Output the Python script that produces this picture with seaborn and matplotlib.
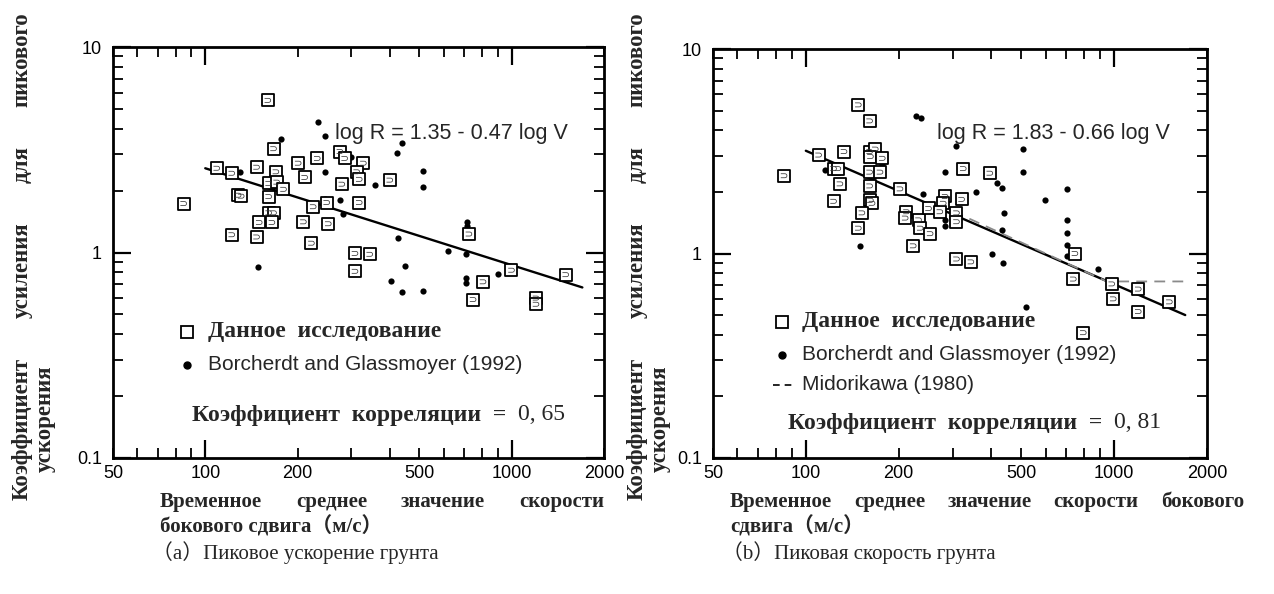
import matplotlib
matplotlib.use("Agg")
import matplotlib.pyplot as plt
from matplotlib.transforms import IdentityTransform
import pandas as pd
import seaborn as sns

W, H = 1274, 594

# (a) peak ground acceleration: this study (open squares)
acc_study_v = [160, 167, 109, 122, 147, 170, 161, 171, 180, 161, 128, 131, 85, 161, 167,
               150, 165, 122, 147, 201, 232, 275, 285, 328, 312, 211, 279, 318, 318, 225,
               249, 209, 252, 222, 308, 344, 308, 400, 725, 806, 748, 998, 1500, 1200, 1200]
acc_study_r = [5.5, 3.2, 2.57, 2.43, 2.6, 2.47, 2.17, 2.2, 2.03, 1.87, 1.9, 1.88, 1.73, 1.56, 1.56,
               1.4, 1.4, 1.22, 1.19, 2.72, 2.87, 3.1, 2.87, 2.72, 2.47, 2.32, 2.15, 2.27, 1.75, 1.67,
               1.75, 1.41, 1.38, 1.11, 0.99, 0.98, 0.81, 2.25, 1.23, 0.72, 0.59, 0.82, 0.78, 0.6, 0.56]
# (a) Borcherdt and Glassmoyer (1992) (dots)
acc_bg_v = [233, 246, 177, 130, 246, 300, 357, 275, 282, 149, 246, 440, 421, 514, 514,
            712, 712, 426, 620, 708, 449, 405, 440, 514, 710, 710, 902]
acc_bg_r = [4.33, 3.7, 3.56, 2.47, 2.47, 2.93, 2.13, 1.8, 1.54, 0.85, 1.83, 3.4, 3.06, 2.5, 2.09,
            1.41, 1.35, 1.17, 1.02, 0.98, 0.86, 0.73, 0.64, 0.65, 0.75, 0.71, 0.79]
# (a) log R = 1.35 - 0.47 log V
acc_fit_v = [100, 1700]
acc_fit_r = [2.57, 0.676]

# (b) peak ground velocity: this study
vel_study_v = [148, 161, 110, 133, 161, 168, 162, 177, 85, 123, 127, 161, 174, 129, 161,
               202, 123, 162, 164, 152, 148, 212, 210, 232, 235, 253, 223, 250, 283, 279,
               272, 320, 308, 308, 308, 343, 324, 395, 746, 737, 982, 993, 1197, 1197, 1510, 794]
vel_study_r = [5.33, 4.45, 3.03, 3.15, 3.15, 3.24, 2.98, 2.92, 2.4, 2.6, 2.6, 2.5, 2.5, 2.19, 2.14,
               2.07, 1.8, 1.82, 1.76, 1.58, 1.33, 1.6, 1.49, 1.46, 1.33, 1.25, 1.09, 1.66, 1.9, 1.76,
               1.6, 1.84, 1.58, 1.43, 0.94, 0.91, 2.6, 2.47, 1.0, 0.75, 0.71, 0.6, 0.67, 0.52, 0.58, 0.41]
# (b) Borcherdt and Glassmoyer (1992)
vel_bg_v = [228, 237, 307, 115, 282, 356, 239, 283, 283, 150, 401, 507, 507, 416, 432,
            597, 702, 702, 702, 702, 702, 439, 432, 435, 888, 518, 177]
vel_bg_r = [4.7, 4.6, 3.36, 2.56, 2.5, 2.0, 1.95, 1.46, 1.36, 1.09, 1.0, 3.23, 2.5, 2.2, 2.1,
            1.82, 2.06, 1.46, 1.26, 1.1, 0.97, 1.58, 1.3, 0.9, 0.84, 0.55, 2.7]
# (b) log R = 1.83 - 0.66 log V
vel_fit_v = [100, 1700]
vel_fit_r = [3.18, 0.50]
# (b) Midorikawa (1980)
vel_mido_v = [300, 946, 1750]
vel_mido_r = [1.61, 0.73, 0.73]

x_major = [100, 1000]
x_major_labels = ["100", "1000"]
x_minor = [50, 60, 70, 80, 90, 200, 300, 400, 500, 600, 700, 800, 900, 2000]
x_minor_labels = ["50", "", "", "", "", "200", "", "", "500", "", "", "", "", "2000"]
y_major = [0.1, 1, 10]
y_major_labels = ["0.1", "1", "10"]
y_minor = [0.2, 0.3, 0.4, 0.5, 0.6, 0.7, 0.8, 0.9, 2, 3, 4, 5, 6, 7, 8, 9]

ylabel_words = ["Коэффициент", "усиления", "для", "пикового"]
ylabel_line2 = "ускорения"
xlabel_a = ["Временное", "среднее", "значение", "скорости"]
xlabel_a2 = "бокового сдвига（м/с）"
xlabel_b = ["Временное", "среднее", "значение", "скорости", "бокового"]
xlabel_b2 = "сдвига（м/с）"
caption_a = "（a）Пиковое ускорение грунта"
caption_b = "（b）Пиковая скорость грунта"

sns.set_style("ticks")
plt.rcParams["font.family"] = ["Liberation Sans", "DejaVu Sans"]

fig = plt.figure(figsize=(W / 100, H / 100), dpi=100)
ax_a = fig.add_axes([113 / W, 1 - 458 / H, 491 / W, 411 / H])
ax_b = fig.add_axes([713 / W, 1 - 458 / H, 494 / W, 409 / H])

SERIF = ["Liberation Serif", "Noto Sans CJK JP", "DejaVu Serif"]
SANS = ["Liberation Sans", "DejaVu Sans"]
ident = IdentityTransform()


def measure(s, **kw):
    r = fig.canvas.get_renderer()
    t = fig.text(0, 0, s, **kw)
    w = t.get_window_extent(r).width
    t.remove()
    return w


def spread(words, x0, x1, y, rotate=False, **kw):
    # lay words out evenly between x0 and x1 (pixels); vertical if rotate
    widths = [measure(w, **kw) for w in words]
    gap = (abs(x1 - x0) - sum(widths)) / max(len(words) - 1, 1)
    pos = x0
    for w, wd in zip(words, widths):
        if rotate:
            fig.text(y, H - pos, w, rotation=90, rotation_mode="anchor",
                     ha="left", va="center", transform=ident, **kw)
            pos -= wd + gap
        else:
            fig.text(pos, H - y, w, ha="left", va="center", transform=ident, **kw)
            pos += wd + gap


def draw_panel(ax, study_v, study_r, bg_v, bg_r, fit_v, fit_r):
    ax.set_xscale("log")
    ax.set_yscale("log")
    study = pd.DataFrame({"v": study_v, "r": study_r})
    bg = pd.DataFrame({"v": bg_v, "r": bg_r})
    sns.lineplot(x=fit_v, y=fit_r, ax=ax, color="black", linewidth=1.7)
    sns.scatterplot(data=bg, x="v", y="r", ax=ax, marker="o", s=20,
                    color="black", edgecolor="black", linewidth=0, zorder=3)
    sns.scatterplot(data=study, x="v", y="r", ax=ax, marker="s", s=78,
                    color="white", edgecolor="black", linewidth=1.3, zorder=4)
    # small scan mark inside each square
    sns.scatterplot(data=study, x="v", y="r", ax=ax, marker=r"$\supset$", s=22,
                    color="#333333", edgecolor="none", linewidth=0, zorder=5)
    ax.set_xlim(50, 2000)
    ax.set_ylim(0.1, 10)
    ax.set_xlabel("")
    ax.set_ylabel("")
    ax.set_xticks(x_major)
    ax.set_xticklabels(x_major_labels)
    ax.set_xticks(x_minor, minor=True)
    ax.set_xticklabels(x_minor_labels, minor=True)
    ax.set_yticks(y_major)
    ax.set_yticklabels(y_major_labels)
    ax.set_yticks(y_minor, minor=True)
    ax.set_yticklabels([], minor=True)
    ax.tick_params(which="both", direction="in", top=True, right=True,
                   labelsize=13, colors="black")
    ax.tick_params(axis="x", which="both", pad=5)
    ax.tick_params(axis="y", which="both", pad=8)
    ax.tick_params(which="major", length=13, width=1.6)
    ax.tick_params(which="minor", length=7, width=1.3)
    for sp in ax.spines.values():
        sp.set_linewidth(2.0)
        sp.set_color("black")
    ax.grid(False)


draw_panel(ax_a, acc_study_v, acc_study_r, acc_bg_v, acc_bg_r, acc_fit_v, acc_fit_r)
draw_panel(ax_b, vel_study_v, vel_study_r, vel_bg_v, vel_bg_r, vel_fit_v, vel_fit_r)
sns.lineplot(x=vel_mido_v, y=vel_mido_r, ax=ax_b, color="#8a8a8a", linewidth=1.3,
             linestyle=(0, (6, 4)), zorder=2)

# equations
fig.text(335, H - 133, "log R = 1.35 - 0.47 log V", transform=ident, fontsize=15.5,
         family=SANS, ha="left", va="center")
fig.text(937, H - 133, "log R = 1.83 - 0.66 log V", transform=ident, fontsize=15.5,
         family=SANS, ha="left", va="center")

legend_font = dict(fontsize=17, family=SERIF, weight="bold")
label_font = dict(fontsize=16.5, family=SERIF, weight="bold")
xlabel_font = dict(fontsize=15, family=SERIF, weight="bold")


def legend_block(x_mark, x_text, ys, corr_x, corr_y, corr_val, mido=False):
    fig.lines.append(plt.Line2D([x_mark], [H - ys[0]], transform=ident, marker="s",
                                markersize=8.5, markerfacecolor="white",
                                markeredgecolor="black", markeredgewidth=1.3, lw=0))
    fig.text(x_text, H - ys[0], "Данное  исследование", transform=ident,
             ha="left", va="center", **legend_font)
    fig.lines.append(plt.Line2D([x_mark], [H - ys[1]], transform=ident, marker="o",
                                markersize=5, color="black", lw=0))
    fig.text(x_text, H - ys[1], "Borcherdt and Glassmoyer (1992)", transform=ident,
             ha="left", va="center", fontsize=15, family=SANS)
    if mido:
        fig.lines.append(plt.Line2D([x_mark - 9, x_mark + 13], [H - ys[2], H - ys[2]],
                                    transform=ident, color="black", lw=1.2,
                                    linestyle=(0, (4, 3))))
        fig.text(x_text, H - ys[2], "Midorikawa (1980)", transform=ident,
                 ha="left", va="center", fontsize=15, family=SANS)
    head = "Коэффициент  корреляции  =  "
    fig.text(corr_x, H - corr_y, head, transform=ident, ha="left", va="center", **legend_font)
    w = measure(head, **legend_font)
    fig.text(corr_x + w, H - corr_y, corr_val, transform=ident, ha="left", va="center",
             fontsize=17, family=SERIF)


legend_block(187, 208, [332, 365], 192, 415, "0, 65")
legend_block(782, 802, [322, 355, 385], 788, 423, "0, 81", mido=True)

# rotated y labels (two lines each)
spread(ylabel_words, 500, 12, 22, rotate=True, **label_font)
fig.text(45, H - 472, ylabel_line2, rotation=90, rotation_mode="anchor", ha="left",
         va="center", transform=ident, **label_font)
spread(ylabel_words, 500, 12, 637, rotate=True, **label_font)
fig.text(660, H - 472, ylabel_line2, rotation=90, rotation_mode="anchor", ha="left",
         va="center", transform=ident, **label_font)

# x labels and captions (fullwidth brackets carry their own side bearing)
spread(xlabel_a, 160, 604, 502, **xlabel_font)
fig.text(160, H - 527, xlabel_a2, transform=ident, ha="left", va="center", **xlabel_font)
fig.text(152, H - 553, caption_a, transform=ident, ha="left", va="center",
         fontsize=15, family=SERIF)

spread(xlabel_b, 730, 1244, 502, **xlabel_font)
fig.text(730, H - 527, xlabel_b2, transform=ident, ha="left", va="center", **xlabel_font)
fig.text(722, H - 553, caption_b, transform=ident, ha="left", va="center",
         fontsize=15, family=SERIF)

fig.savefig("out.png", dpi=100, facecolor="white")
